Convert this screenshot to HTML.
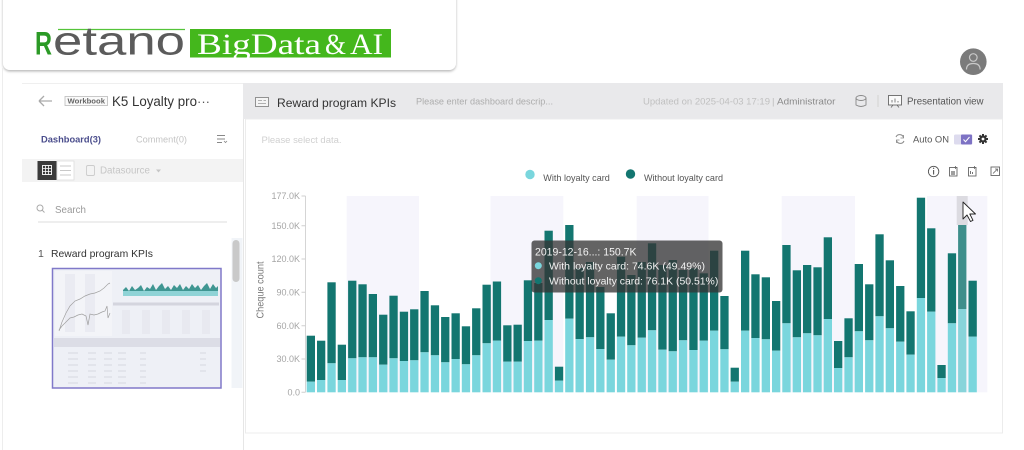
<!DOCTYPE html>
<html><head><meta charset="utf-8">
<style>
html,body{margin:0;padding:0;background:#fff;width:1024px;height:450px;overflow:hidden}
svg{display:block}
text{font-family:"Liberation Sans",sans-serif}
</style></head>
<body>
<svg width="1024" height="450" viewBox="0 0 1024 450" xmlns="http://www.w3.org/2000/svg">
<defs>
<filter id="sh" x="-5%" y="-20%" width="110%" height="150%"><feDropShadow dx="0" dy="1.5" stdDeviation="1.4" flood-color="#000" flood-opacity="0.28"/></filter>
</defs>
<rect x="0" y="0" width="1024" height="450" fill="#fff"/>

<!-- logo card -->
<rect x="3" y="-12" width="453" height="82" rx="7" fill="#fff" filter="url(#sh)"/>
<line x1="58" y1="29.5" x2="185" y2="29.5" stroke="#55c43a" stroke-width="1.2"/>
<text x="35" y="54.5" font-size="32" font-weight="bold" fill="#2b9a26" textLength="17" lengthAdjust="spacingAndGlyphs">R</text>
<text x="53" y="54.5" font-size="40" fill="#5b5b5b" textLength="132" lengthAdjust="spacingAndGlyphs">etano</text>
<rect x="190" y="29" width="201" height="28.5" fill="#44b71c"/>
<text x="197" y="54" font-size="30" fill="#fff" style="font-family:'Liberation Serif',serif" textLength="124" lengthAdjust="spacingAndGlyphs">BigData</text>
<text x="325" y="54" font-size="30" fill="#fff" style="font-family:'Liberation Serif',serif" textLength="21" lengthAdjust="spacingAndGlyphs">&amp;</text>
<text x="350" y="54" font-size="30" fill="#fff" style="font-family:'Liberation Serif',serif" textLength="33" lengthAdjust="spacingAndGlyphs">AI</text>

<!-- avatar -->
<circle cx="973.3" cy="61.7" r="13.3" fill="#7b7b7b"/>
<circle cx="973.3" cy="57.5" r="3.8" fill="none" stroke="#c8c8c8" stroke-width="1.2"/>
<path d="M966.5,69.5 q0,-6 6.8,-6 q6.8,0 6.8,6" fill="none" stroke="#c8c8c8" stroke-width="1.2"/>

<!-- left panel frame -->
<line x1="2.5" y1="68" x2="2.5" y2="450" stroke="#ededed"/>
<line x1="22" y1="83.5" x2="243" y2="83.5" stroke="#efefef"/>
<line x1="243.5" y1="83" x2="243.5" y2="450" stroke="#e6e6e6"/>

<!-- left header -->
<path d="M39,101 H52 M39,101 l5,-5 M39,101 l5,5" stroke="#aaa" stroke-width="1.3" fill="none"/>
<rect x="65" y="96.5" width="42.5" height="9" fill="#fafafa" stroke="#bbb" stroke-width="0.8"/>
<text x="67.5" y="103.6" font-size="7" font-weight="bold" fill="#666" textLength="37.5" lengthAdjust="spacingAndGlyphs">Workbook</text>
<text x="112" y="106" font-size="13.5" fill="#333" textLength="85" lengthAdjust="spacingAndGlyphs">K5 Loyalty pro</text>
<text x="197" y="106" font-size="13" fill="#555">···</text>

<text x="41" y="142.5" font-size="9.5" font-weight="bold" fill="#4a4d8c" textLength="60" lengthAdjust="spacingAndGlyphs">Dashboard(3)</text>
<text x="136" y="142.5" font-size="9.5" fill="#c4c4c4" textLength="51" lengthAdjust="spacingAndGlyphs">Comment(0)</text>
<path d="M217,135.5 H225 M217,139 H225 M217,142.5 H222" stroke="#888" stroke-width="1"/>
<path d="M224,141 l1.5,1.5 l1.5,-1.5" stroke="#888" fill="none" stroke-width="0.8"/>

<rect x="22" y="159" width="221" height="23" fill="#f3f3f3"/>
<rect x="37.5" y="161" width="19" height="19" fill="#3b3b3b"/>
<rect x="42.5" y="165.5" width="9" height="9" fill="none" stroke="#fff" stroke-width="0.9"/>
<path d="M45.5,165.5 V174.5 M48.5,165.5 V174.5 M42.5,168.5 H51.5 M42.5,171.5 H51.5" stroke="#fff" stroke-width="0.8"/>
<rect x="57" y="161" width="17" height="19" fill="#fff" stroke="#ddd" stroke-width="0.8"/>
<path d="M60,166 H71 M60,170.5 H71 M60,175 H71" stroke="#c8c8c8" stroke-width="0.9"/>
<rect x="86.5" y="165.5" width="8" height="10" rx="1.5" fill="none" stroke="#ccc" stroke-width="0.9"/>
<text x="100" y="173.5" font-size="10" fill="#c6c6c6" textLength="50" lengthAdjust="spacingAndGlyphs">Datasource</text>
<path d="M156,169.5 l2.5,3 l2.5,-3 z" fill="#c6c6c6"/>

<circle cx="40" cy="208" r="3" fill="none" stroke="#aaa" stroke-width="1"/>
<line x1="42.2" y1="210.2" x2="44.5" y2="212.5" stroke="#aaa" stroke-width="1"/>
<text x="55" y="213" font-size="10.5" fill="#9a9a9a" textLength="31" lengthAdjust="spacingAndGlyphs">Search</text>
<line x1="38" y1="222" x2="227" y2="222" stroke="#dcdcdc"/>

<text x="38" y="257" font-size="10.5" fill="#555">1</text>
<text x="51" y="257" font-size="10.5" fill="#333" textLength="102" lengthAdjust="spacingAndGlyphs">Reward program KPIs</text>

<!-- thumbnail -->
<rect x="52.5" y="268.5" width="168.5" height="119.5" fill="#eef0f6" stroke="#8079c9" stroke-width="1.5"/>
<rect x="55" y="271" width="57" height="65" fill="#f3f4f8"/>
<rect x="65" y="274" width="10" height="58" fill="#eaebf2"/>
<rect x="85" y="274" width="10" height="58" fill="#eaebf2"/>
<polyline points="59,331 62,322 66,313 70,306 75,301 80,299 85,296 90,294 95,293 100,291 104,288 108,284 110,283" fill="none" stroke="#a0a0a0" stroke-width="0.7"/>
<polyline points="59,330 62,326 66,322 70,318 74,317 78,315 82,314 86,316 88,325 90,314 94,315 98,314 102,312 105,311 107,306 108,318 110,313" fill="none" stroke="#a0a0a0" stroke-width="0.7"/>
<polygon points="123,296 123,290 126,287 129,291 132,286 135,290 138,288 141,285 144,291 147,287 150,289 153,284 156,290 159,286 162,283 165,289 168,286 171,290 174,285 177,288 180,284 183,290 186,286 189,289 192,284 195,288 198,285 201,290 204,286 207,283 210,289 213,284 216,288 218,286 218,296" fill="#3f9692"/>
<rect x="123" y="291" width="95" height="5" fill="#8fd3d6"/>
<rect x="113" y="302.5" width="106" height="3" fill="#d4d5de"/>
<rect x="122" y="310" width="8" height="24" fill="#e8e9f0"/><rect x="142" y="310" width="8" height="24" fill="#e8e9f0"/><rect x="162" y="310" width="8" height="24" fill="#e8e9f0"/><rect x="182" y="310" width="8" height="24" fill="#e8e9f0"/><rect x="202" y="310" width="8" height="24" fill="#e8e9f0"/>
<rect x="54" y="338" width="166" height="9" fill="#dcdde6"/>
<g stroke="#cfd0d9" stroke-width="0.8">
<path d="M68,353 H78 M88,353 H96 M104,353 H112 M118,353 H126 M140,353 H146 M200,353 H206"/>
<path d="M68,359 H78 M88,359 H96 M104,359 H112 M118,359 H126 M140,359 H146 M200,359 H206"/>
<path d="M68,365 H78 M88,365 H96 M104,365 H112 M118,365 H126 M140,365 H146 M200,365 H206"/>
<path d="M68,371 H78 M88,371 H96 M104,371 H112 M118,371 H126 M140,371 H146 M200,371 H206"/>
<path d="M68,377 H78 M88,377 H96 M104,377 H112 M118,377 H126 M140,377 H146"/>
<path d="M68,383 H78 M88,383 H96 M104,383 H112 M118,383 H126 M140,383 H146"/>
</g>
<rect x="231.5" y="238" width="11" height="150" fill="#f1f4f8"/>
<rect x="232.5" y="240" width="7" height="42" rx="3.5" fill="#c9c9c9"/>

<!-- right header bar -->
<rect x="243" y="83" width="760" height="36" fill="#e9e9eb"/>
<rect x="255.5" y="97.5" width="13" height="9" fill="#f4f4f4" stroke="#888" stroke-width="0.9"/>
<path d="M258,100.5 H262 M258,103.5 H266 M263.5,100.5 H266" stroke="#999" stroke-width="0.8"/>
<text x="277" y="107" font-size="12" fill="#333" textLength="119" lengthAdjust="spacingAndGlyphs">Reward program KPIs</text>
<text x="416" y="104.5" font-size="9" fill="#adadad" textLength="137" lengthAdjust="spacingAndGlyphs">Please enter dashboard descrip...</text>
<text x="643" y="104.5" font-size="9.5" fill="#c0c0c0" textLength="127" lengthAdjust="spacingAndGlyphs">Updated on 2025-04-03 17:19</text>
<text x="772" y="104.5" font-size="9.5" fill="#bbb">|</text>
<text x="777" y="104.5" font-size="9.5" fill="#8a8a8a" textLength="58.5" lengthAdjust="spacingAndGlyphs">Administrator</text>
<ellipse cx="861" cy="98" rx="5" ry="2.5" fill="none" stroke="#888" stroke-width="0.9"/>
<path d="M856,98 V105 q5,3 10,0 V98" fill="none" stroke="#888" stroke-width="0.9"/>
<line x1="878" y1="95" x2="878" y2="107" stroke="#d2d2d2"/>
<rect x="888.5" y="95.5" width="13" height="9.5" fill="#fafafa" stroke="#666" stroke-width="0.9"/>
<path d="M892,102.5 V100 M895,102.5 V98.5 M898,102.5 V101 M891,107.5 l2,-2.5 M899,107.5 l-2,-2.5" stroke="#666" stroke-width="0.8"/>
<text x="907" y="104.5" font-size="10" fill="#555" textLength="76.5" lengthAdjust="spacingAndGlyphs">Presentation view</text>

<!-- chart card -->
<rect x="245.5" y="119" width="757" height="314" fill="#fff" stroke="#ececec"/>
<text x="261.5" y="143" font-size="9.5" fill="#d0d0d0" textLength="80" lengthAdjust="spacingAndGlyphs">Please select data.</text>
<path d="M896,137 a4,4 0 0 1 7.5,0.5 M904,141 a4,4 0 0 1 -7.5,-0.5" fill="none" stroke="#888" stroke-width="1"/>
<path d="M903.5,135 v3 h-3 M896.5,143 v-3 h3" fill="none" stroke="#888" stroke-width="0.8"/>
<text x="913" y="142.5" font-size="9.5" fill="#555" textLength="36" lengthAdjust="spacingAndGlyphs">Auto ON</text>
<rect x="954" y="134.5" width="18.5" height="10" rx="1.5" fill="#dddbee"/>
<rect x="961" y="134.5" width="11" height="10" rx="1" fill="#7d72c4"/>
<polyline points="963.5,139.5 965.5,141.7 969.5,137" fill="none" stroke="#fff" stroke-width="1"/>
<g transform="translate(983,139)">
<circle r="3.6" fill="#333"/>
<path d="M-1,-5 h2 v2 h-2z M-1,3 h2 v2 h-2z M-5,-1 v2 h2 v-2z M3,-1 v2 h2 v-2z" fill="#333"/>
<path d="M-1,-5 h2 v2 h-2z M-1,3 h2 v2 h-2z M-5,-1 v2 h2 v-2z M3,-1 v2 h2 v-2z" fill="#333" transform="rotate(45)"/>
<circle r="1.4" fill="#fff"/>
</g>

<!-- legend -->
<circle cx="530" cy="174.5" r="4.7" fill="#7ad6dd"/>
<text x="543.3" y="181" font-size="9.5" fill="#555" textLength="66.5" lengthAdjust="spacingAndGlyphs">With loyalty card</text>
<circle cx="630.5" cy="174" r="4.7" fill="#137670"/>
<text x="644" y="181" font-size="9.5" fill="#555" textLength="79" lengthAdjust="spacingAndGlyphs">Without loyalty card</text>

<!-- chart tool icons -->
<circle cx="933.6" cy="171.5" r="5.2" fill="none" stroke="#555" stroke-width="0.9"/>
<path d="M933.6,170 V174.5" stroke="#555" stroke-width="1.1"/><circle cx="933.6" cy="168.3" r="0.7" fill="#555"/>
<rect x="949.5" y="167.5" width="7.5" height="8.5" fill="none" stroke="#666" stroke-width="0.9"/>
<path d="M951,172 h4 M951,174 h4" stroke="#666" stroke-width="1.3"/><path d="M955.5,166 v3 M954,167.5 h3" stroke="#666" stroke-width="0.8"/>
<rect x="968.5" y="167.5" width="7.5" height="8.5" fill="none" stroke="#666" stroke-width="0.9"/>
<path d="M970.5,174 v-3 M972.5,174 v-2" stroke="#666" stroke-width="0.9"/><path d="M974.5,166 v3 M973,167.5 h3" stroke="#666" stroke-width="0.8"/>
<rect x="991" y="167" width="8.5" height="8.5" fill="none" stroke="#666" stroke-width="0.9"/>
<path d="M993,173.5 l4.5,-4.5 M995,169 h2.5 v2.5" fill="none" stroke="#666" stroke-width="0.8"/>

<!-- bands -->
<g fill="#f6f5fc">
<rect x="346.7" y="196" width="72.3" height="196.3"/>
<rect x="490.5" y="196" width="72.8" height="196.3"/>
<rect x="636.7" y="196" width="71.8" height="196.3"/>
<rect x="781.7" y="196" width="73.3" height="196.3"/>
<rect x="927" y="196" width="60.3" height="196.3"/>
</g>

<!-- axis -->
<line x1="305.5" y1="196" x2="305.5" y2="392.3" stroke="#d5d5d5"/>
<g stroke="#cfcfcf">
<path d="M301.5,196 H305.5 M301.5,225.7 H305.5 M301.5,259 H305.5 M301.5,292.3 H305.5 M301.5,325.7 H305.5 M301.5,359 H305.5 M301.5,392.3 H305.5"/>
</g>
<g font-size="9" fill="#a5a5a5" text-anchor="end">
<text x="300" y="199.2">177.0K</text>
<text x="300" y="228.9">150.0K</text>
<text x="300" y="262.2">120.0K</text>
<text x="300" y="295.5">90.0K</text>
<text x="300" y="328.9">60.0K</text>
<text x="300" y="362.2">30.0K</text>
<text x="300" y="395.5">0.0</text>
</g>
<text x="260" y="293.5" font-size="10" fill="#777" text-anchor="middle" transform="rotate(-90 260 290)" textLength="57" lengthAdjust="spacingAndGlyphs">Cheque count</text>

<!-- highlight column -->
<rect x="956.7" y="196" width="11" height="29" fill="#dcdbe1"/>

<!-- dark segments -->
<g fill="#137670">
<rect x="306.7" y="335.7" width="8.3" height="46"/>
<rect x="317.0" y="340.7" width="8.3" height="39.3"/>
<rect x="327.4" y="282.3" width="8.3" height="81"/>
<rect x="337.7" y="344.7" width="8.3" height="35.3"/>
<rect x="348.1" y="280.7" width="8.3" height="77.6"/>
<rect x="358.4" y="284.3" width="8.3" height="73"/>
<rect x="368.7" y="294" width="8.3" height="63.3"/>
<rect x="379.1" y="314.7" width="8.3" height="50"/>
<rect x="389.4" y="295.7" width="8.3" height="62.6"/>
<rect x="399.8" y="311.7" width="8.3" height="49.3"/>
<rect x="410.1" y="309.3" width="8.3" height="51"/>
<rect x="420.4" y="291" width="8.3" height="61.3"/>
<rect x="430.8" y="305.3" width="8.3" height="50"/>
<rect x="441.1" y="317" width="8.3" height="45.3"/>
<rect x="451.5" y="313.3" width="8.3" height="45.7"/>
<rect x="461.8" y="326.3" width="8.3" height="38"/>
<rect x="472.1" y="308.3" width="8.3" height="47"/>
<rect x="482.5" y="284.7" width="8.3" height="58.6"/>
<rect x="492.8" y="281.5" width="8.3" height="59.2"/>
<rect x="503.2" y="325.3" width="8.3" height="36.4"/>
<rect x="513.5" y="324.7" width="8.3" height="37"/>
<rect x="523.8" y="280.3" width="8.3" height="60.7"/>
<rect x="534.2" y="283" width="8.3" height="57.7"/>
<rect x="544.5" y="230.7" width="8.3" height="89.3"/>
<rect x="554.9" y="366.7" width="8.3" height="14"/>
<rect x="565.2" y="225" width="8.3" height="93.7"/>
<rect x="575.5" y="268" width="8.3" height="71"/>
<rect x="585.9" y="262" width="8.3" height="75.3"/>
<rect x="596.2" y="287" width="8.3" height="62"/>
<rect x="606.6" y="313.3" width="8.3" height="46.4"/>
<rect x="616.9" y="256.7" width="8.3" height="80"/>
<rect x="627.2" y="275" width="8.3" height="70.3"/>
<rect x="637.6" y="262" width="8.3" height="75.7"/>
<rect x="647.9" y="243.3" width="8.3" height="87"/>
<rect x="658.3" y="265" width="8.3" height="84.7"/>
<rect x="668.6" y="260" width="8.3" height="91.3"/>
<rect x="678.9" y="270" width="8.3" height="70.3"/>
<rect x="689.3" y="268.3" width="8.3" height="81.7"/>
<rect x="699.6" y="273.3" width="8.3" height="67.4"/>
<rect x="710.0" y="250.7" width="8.3" height="80"/>
<rect x="720.3" y="296" width="8.3" height="53.3"/>
<rect x="730.6" y="367.7" width="8.3" height="14"/>
<rect x="741.0" y="250.7" width="8.3" height="80"/>
<rect x="751.3" y="274.3" width="8.3" height="63.7"/>
<rect x="761.7" y="277.3" width="8.3" height="62"/>
<rect x="772.0" y="301" width="8.3" height="49.7"/>
<rect x="782.3" y="245" width="8.3" height="78.3"/>
<rect x="792.7" y="270.3" width="8.3" height="67"/>
<rect x="803.0" y="265" width="8.3" height="68.3"/>
<rect x="813.4" y="267.3" width="8.3" height="68"/>
<rect x="823.7" y="237.3" width="8.3" height="81.7"/>
<rect x="834.0" y="341" width="8.3" height="27"/>
<rect x="844.4" y="318.3" width="8.3" height="39"/>
<rect x="854.7" y="264" width="8.3" height="67.3"/>
<rect x="865.1" y="284.3" width="8.3" height="56"/>
<rect x="875.4" y="234.3" width="8.3" height="82"/>
<rect x="885.7" y="260.3" width="8.3" height="68"/>
<rect x="896.1" y="286" width="8.3" height="55.7"/>
<rect x="906.4" y="311.3" width="8.3" height="43.4"/>
<rect x="916.8" y="197.7" width="8.3" height="100.3"/>
<rect x="927.1" y="228.3" width="8.3" height="83.4"/>
<rect x="937.4" y="365" width="8.3" height="13"/>
<rect x="947.8" y="253.3" width="8.3" height="70"/>
<rect x="968.5" y="280.7" width="8.3" height="56"/>
</g>
<rect x="958.1" y="225" width="8.3" height="84" fill="#3e8e8b"/>

<!-- light segments -->
<g fill="#7ad6dd">
<rect x="306.7" y="381.7" width="8.3" height="10.6"/>
<rect x="317.0" y="380" width="8.3" height="12.3"/>
<rect x="327.4" y="363.3" width="8.3" height="29"/>
<rect x="337.7" y="380" width="8.3" height="12.3"/>
<rect x="348.1" y="358.3" width="8.3" height="34"/>
<rect x="358.4" y="357.3" width="8.3" height="35"/>
<rect x="368.7" y="357.3" width="8.3" height="35"/>
<rect x="379.1" y="364.7" width="8.3" height="27.6"/>
<rect x="389.4" y="358.3" width="8.3" height="34"/>
<rect x="399.8" y="361" width="8.3" height="31.3"/>
<rect x="410.1" y="360.3" width="8.3" height="32"/>
<rect x="420.4" y="352.3" width="8.3" height="40"/>
<rect x="430.8" y="355.3" width="8.3" height="37"/>
<rect x="441.1" y="362.3" width="8.3" height="30"/>
<rect x="451.5" y="359" width="8.3" height="33.3"/>
<rect x="461.8" y="364.3" width="8.3" height="28"/>
<rect x="472.1" y="355.3" width="8.3" height="37"/>
<rect x="482.5" y="343.3" width="8.3" height="49"/>
<rect x="492.8" y="340.7" width="8.3" height="51.6"/>
<rect x="503.2" y="361.7" width="8.3" height="30.6"/>
<rect x="513.5" y="361.7" width="8.3" height="30.6"/>
<rect x="523.8" y="341" width="8.3" height="51.3"/>
<rect x="534.2" y="340.7" width="8.3" height="51.6"/>
<rect x="544.5" y="320" width="8.3" height="72.3"/>
<rect x="554.9" y="380.7" width="8.3" height="11.6"/>
<rect x="565.2" y="318.7" width="8.3" height="73.6"/>
<rect x="575.5" y="339" width="8.3" height="53.3"/>
<rect x="585.9" y="337.3" width="8.3" height="55"/>
<rect x="596.2" y="349" width="8.3" height="43.3"/>
<rect x="606.6" y="359.7" width="8.3" height="32.6"/>
<rect x="616.9" y="336.7" width="8.3" height="55.6"/>
<rect x="627.2" y="345.3" width="8.3" height="47"/>
<rect x="637.6" y="337.7" width="8.3" height="54.6"/>
<rect x="647.9" y="330.3" width="8.3" height="62"/>
<rect x="658.3" y="349.7" width="8.3" height="42.6"/>
<rect x="668.6" y="351.3" width="8.3" height="41"/>
<rect x="678.9" y="340.3" width="8.3" height="52"/>
<rect x="689.3" y="350" width="8.3" height="42.3"/>
<rect x="699.6" y="340.7" width="8.3" height="51.6"/>
<rect x="710.0" y="330.7" width="8.3" height="61.6"/>
<rect x="720.3" y="349.3" width="8.3" height="43"/>
<rect x="730.6" y="381.7" width="8.3" height="10.6"/>
<rect x="741.0" y="330.7" width="8.3" height="61.6"/>
<rect x="751.3" y="338" width="8.3" height="54.3"/>
<rect x="761.7" y="339.3" width="8.3" height="53"/>
<rect x="772.0" y="350.7" width="8.3" height="41.6"/>
<rect x="782.3" y="323.3" width="8.3" height="69"/>
<rect x="792.7" y="337.3" width="8.3" height="55"/>
<rect x="803.0" y="333.3" width="8.3" height="59"/>
<rect x="813.4" y="335.3" width="8.3" height="57"/>
<rect x="823.7" y="319" width="8.3" height="73.3"/>
<rect x="834.0" y="368" width="8.3" height="24.3"/>
<rect x="844.4" y="357.3" width="8.3" height="35"/>
<rect x="854.7" y="331.3" width="8.3" height="61"/>
<rect x="865.1" y="340.3" width="8.3" height="52"/>
<rect x="875.4" y="316.3" width="8.3" height="76"/>
<rect x="885.7" y="328.3" width="8.3" height="64"/>
<rect x="896.1" y="341.7" width="8.3" height="50.6"/>
<rect x="906.4" y="354.7" width="8.3" height="37.6"/>
<rect x="916.8" y="298" width="8.3" height="94.3"/>
<rect x="927.1" y="311.7" width="8.3" height="80.6"/>
<rect x="937.4" y="378" width="8.3" height="14.3"/>
<rect x="947.8" y="323.3" width="8.3" height="69"/>
<rect x="968.5" y="336.7" width="8.3" height="55.6"/>
</g>
<rect x="958.1" y="309" width="8.3" height="83.3" fill="#88d4da"/>

<!-- tooltip -->
<rect x="531.5" y="240.5" width="191" height="52" rx="3" fill="rgb(52,52,52)" fill-opacity="0.77"/>
<text x="535" y="255.5" font-size="11" fill="#f2f2f2" textLength="101.5" lengthAdjust="spacingAndGlyphs">2019-12-16...: 150.7K</text>
<circle cx="538.3" cy="265.7" r="3.5" fill="#7ad6dd"/>
<text x="549" y="269.6" font-size="10.5" fill="#f2f2f2" textLength="156" lengthAdjust="spacingAndGlyphs">With loyalty card: 74.6K (49.49%)</text>
<circle cx="538.3" cy="280.7" r="3.5" fill="#137670"/>
<text x="549" y="284.6" font-size="10.5" fill="#f2f2f2" textLength="169.3" lengthAdjust="spacingAndGlyphs">Without loyalty card: 76.1K (50.51%)</text>

<!-- cursor -->
<path d="M963,202 L963,219 L967,215 L970.5,221.5 L973,220.3 L969.8,214 L975.5,214 Z" fill="#fff" stroke="#222" stroke-width="0.9" stroke-linejoin="round"/>
</svg>
</body></html>
